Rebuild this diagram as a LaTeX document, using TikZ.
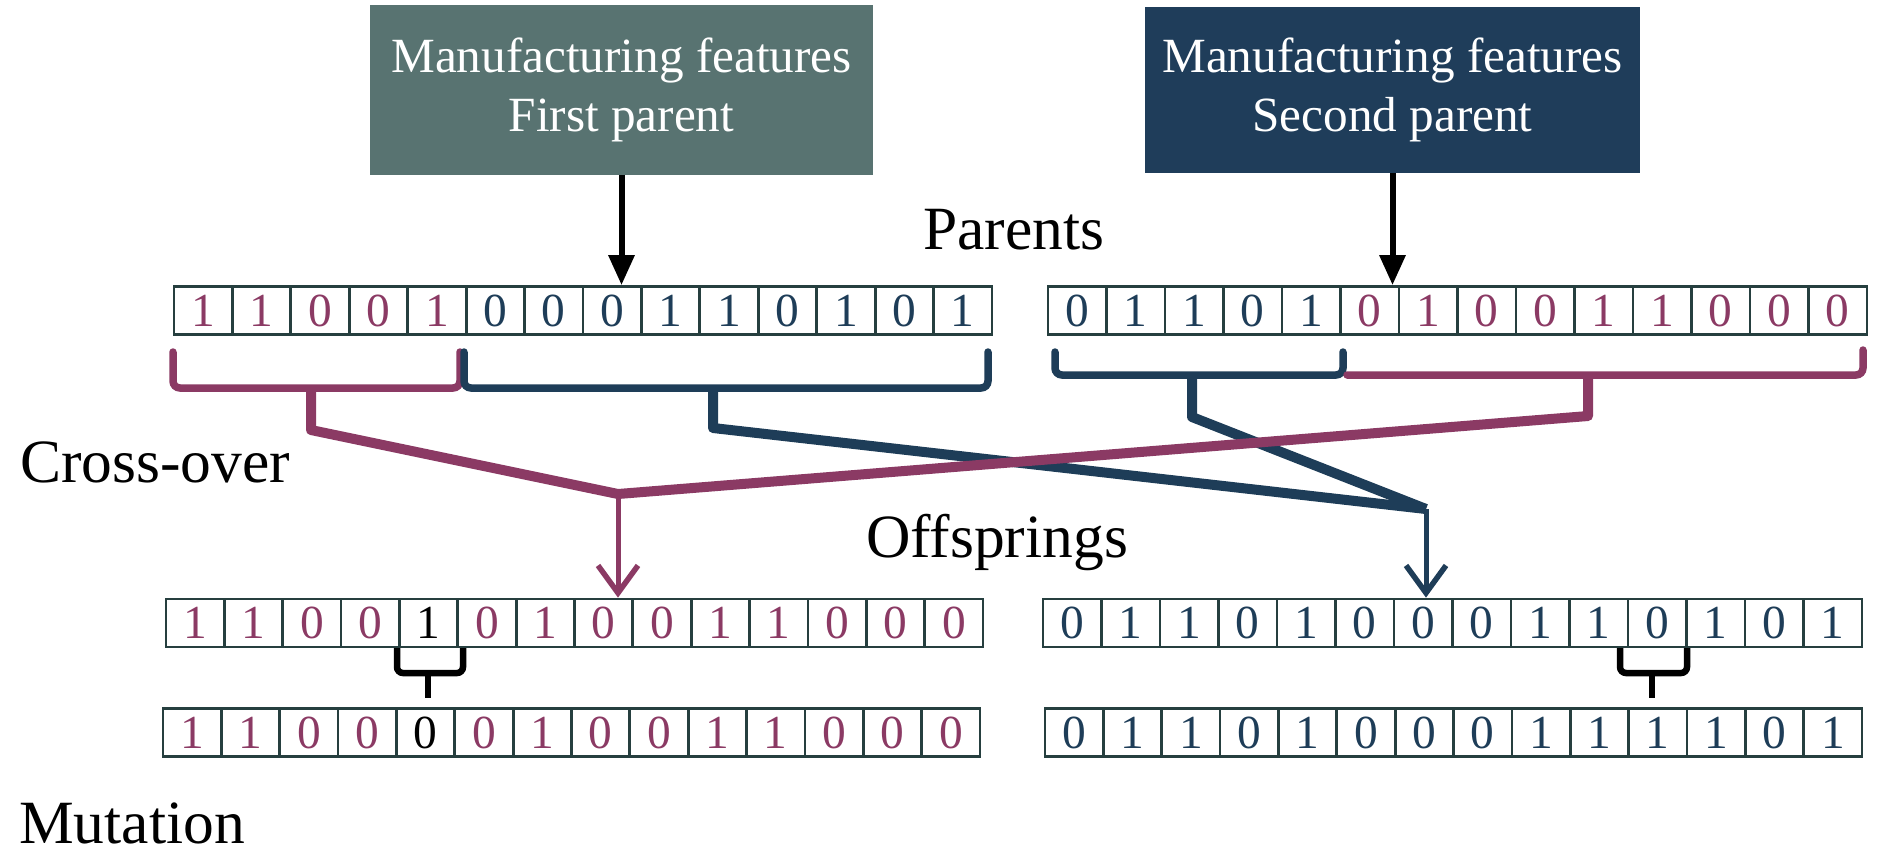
\documentclass[tikz,border=0pt]{standalone}
\usepackage{fontspec}
\setmainfont{Liberation Serif}
\usetikzlibrary{arrows.meta}
\definecolor{plum}{HTML}{8B3A64}
\definecolor{navy}{HTML}{1E3D58}
\definecolor{boxA}{HTML}{587371}
\definecolor{boxB}{HTML}{1F3D5A}
\definecolor{cellline}{HTML}{263F3F}
\tikzset{
  cell/.style={draw=cellline, line width=0.055cm, minimum width=1.168cm, minimum height=0.96cm, inner sep=0pt, font=\fontsize{27}{27}\selectfont},
  featbox/.style={text=white, align=center, inner sep=0pt, font=\fontsize{28}{34}\selectfont},
  lbl/.style={font=\fontsize{35}{35}\selectfont, anchor=base, inner sep=0pt},
  brk/.style={line width=0.15cm, rounded corners=0.14cm, line cap=round},
  diag/.style={line width=0.2cm, line join=round},
  mbrk/.style={line width=0.13cm, rounded corners=0.12cm, black},
  carrow/.style={line width=0.1cm, -{Straight Barb[length=0.55cm,width=0.8cm,line width=0.11cm]}},
  barrow/.style={line width=0.12cm, -{Triangle[length=0.6cm,width=0.5cm]}},
}
\newcommand\chromrow[5]{%
  \foreach \d/\c [count=\i] in {#5}{
    \node[cell, text=\c] (#1-\i) at ({#2+(\i-0.5)*#4},#3) {\d};
  }}
\begin{document}
\begin{tikzpicture}[x=0.02cm,y=-0.02cm]
\useasboundingbox (0,0) rectangle (1890,867);
% feature boxes
\node[featbox, fill=boxA, minimum width=10.06cm, minimum height=3.4cm] (box1) at (621.5,90) {Manufacturing features\\First parent};
\node[featbox, fill=boxB, minimum width=9.9cm, minimum height=3.32cm] (box2) at (1392.5,90) {Manufacturing features\\Second parent};
% chromosomes
\chromrow{pa}{174}{310.5}{58.43}{1/plum,1/plum,0/plum,0/plum,1/plum,0/navy,0/navy,0/navy,1/navy,1/navy,0/navy,1/navy,0/navy,1/navy}
\chromrow{pb}{1048}{310.5}{58.5}{0/navy,1/navy,1/navy,0/navy,1/navy,0/plum,1/plum,0/plum,0/plum,1/plum,1/plum,0/plum,0/plum,0/plum}
\chromrow{oa}{166}{623}{58.36}{1/plum,1/plum,0/plum,0/plum,1/black,0/plum,1/plum,0/plum,0/plum,1/plum,1/plum,0/plum,0/plum,0/plum}
\chromrow{ob}{1043}{623}{58.5}{0/navy,1/navy,1/navy,0/navy,1/navy,0/navy,0/navy,0/navy,1/navy,1/navy,0/navy,1/navy,0/navy,1/navy}
\chromrow{ma}{163}{732.5}{58.36}{1/plum,1/plum,0/plum,0/plum,0/black,0/plum,1/plum,0/plum,0/plum,1/plum,1/plum,0/plum,0/plum,0/plum}
\chromrow{mb}{1045}{732.5}{58.36}{0/navy,1/navy,1/navy,0/navy,1/navy,0/navy,0/navy,0/navy,1/navy,1/navy,1/navy,1/navy,0/navy,1/navy}
% labels
\node[lbl] (lparents) at (1014,249) {Parents};
\node[lbl] (lcross) at (155,482) {Cross-over};
\node[lbl] (loff) at (997,557) {Offsprings};
\node[lbl] (lmut) at (132,843) {Mutation};
% black arrows from boxes
\draw[barrow] (box1.south) -- (box1.south |- pa-8.north);
\draw[barrow] (box2.south) -- (box2.south |- pb-6.north);
% junction coordinates
\coordinate (sa1) at (311,430);
\coordinate (sa2) at (713,428);
\coordinate (sb1) at (1192,417);
\coordinate (sb2) at (1588,416);
\coordinate (jp) at (618,494);
\coordinate (jn) at (1426,509);
% brackets (parents)
\draw[brk, plum] (173,352) -- (173,388) -- (460,388) -- (460,352);
\draw[brk, navy] (464,352) -- (464,388) -- (988,388) -- (988,352);
\draw[brk, navy] (1055,352) -- (1055,375) -- (1343,375) -- (1343,352);
\draw[brk, plum] (1347,375) -- (1863,375) -- (1863,350);
% navy routes
\draw[diag, navy] (713,388) -- (sa2) -- (jn);
\draw[diag, navy] (1192,375) -- (sb1) -- (jn);
% plum routes
\draw[diag, plum] (311,388) -- (sa1) -- (jp) -- (sb2) -- (1588,375);
% arrows to offspring
\draw[carrow, plum] (jp) -- (jp |- oa-8.north);
\draw[carrow, navy] (jn) -- (jn |- ob-7.north);
% mutation brackets
\draw[mbrk] (397,648) -- (397,673) -- (463,673) -- (463,648);
\draw[mbrk] (428,673) -- (428,698);
\draw[mbrk] (1620,648) -- (1620,673) -- (1687,673) -- (1687,648);
\draw[mbrk] (1652,673) -- (1652,698);
\end{tikzpicture}
\end{document}
